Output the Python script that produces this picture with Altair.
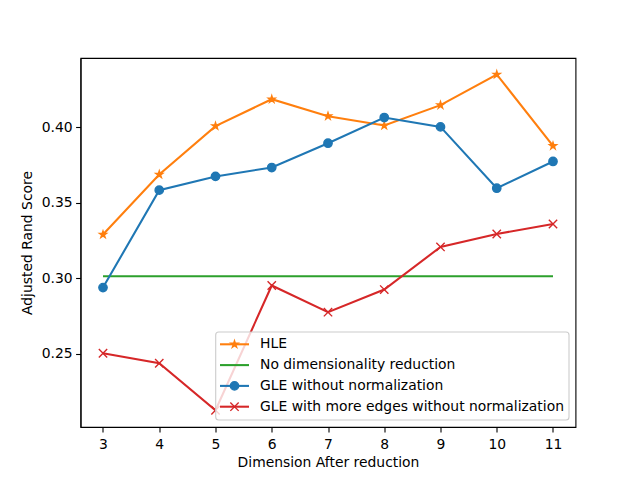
import math
import altair as alt
import pandas as pd

dims = [3, 4, 5, 6, 7, 8, 9, 10, 11]
series_names = [
    "HLE",
    "No dimensionality reduction",
    "GLE without normalization",
    "GLE with more edges without normalization",
]
hle = [0.3289, 0.3687, 0.4007, 0.4185, 0.4073, 0.4011, 0.4146, 0.4349, 0.3876]
no_reduction = [0.3013, 0.3013, 0.3013, 0.3013, 0.3013, 0.3013, 0.3013, 0.3013, 0.3013]
gle = [0.2938, 0.3583, 0.3674, 0.3733, 0.3894, 0.4064, 0.4002, 0.3596, 0.3773]
gle_more = [0.2503, 0.2437, 0.2126, 0.2952, 0.2775, 0.2925, 0.3207, 0.3293, 0.3359]
y_ticks = [0.25, 0.30, 0.35, 0.40]

colors = ["#ff7f0e", "#2ca02c", "#1f77b4", "#d62728"]

rows = []
for name, vals in zip(series_names, [hle, no_reduction, gle, gle_more]):
    for d, v in zip(dims, vals):
        rows.append({"dim": d, "score": v, "series": name})
df = pd.DataFrame(rows)

leg_df = pd.DataFrame({"series": series_names, "idx": list(range(len(series_names)))})
box_df = pd.DataFrame({"k": [0]})


def star_path(r):
    pts = []
    for k in range(10):
        ang = math.pi / 2 + k * math.pi / 5
        rad = r if k % 2 == 0 else r * 0.381966
        pts.append((rad * math.cos(ang), -rad * math.sin(ang)))
    return "M" + "L".join(f"{x:.4f},{y:.4f}" for x, y in pts) + "Z"


def x_path(r):
    return f"M{-r},{-r}L{r},{r}M{-r},{r}L{r},{-r}"


x_scale = alt.Scale(domain=[2.6, 11.4], nice=False, zero=False)
y_scale = alt.Scale(domain=[0.2015, 0.4458], nice=False, zero=False)

x_enc = alt.X(
    "dim:Q",
    scale=x_scale,
    axis=alt.Axis(values=dims, title="Dimension After reduction", format="d"),
)
y_enc = alt.Y(
    "score:Q",
    scale=y_scale,
    axis=alt.Axis(values=y_ticks, title="Adjusted Rand Score", format=".2f"),
)
color_enc = alt.Color(
    "series:N", scale=alt.Scale(domain=series_names, range=colors), legend=None
)

lines = alt.Chart(df).mark_line(strokeWidth=2.08).encode(
    x=x_enc, y=y_enc, color=color_enc, detail="series:N"
)

marker_specs = {
    series_names[0]: dict(shape=star_path(1), size=52, filled=True),
    series_names[2]: dict(shape="circle", size=69.6, filled=True),
    series_names[3]: dict(shape=x_path(1), size=69.6, filled=False),
}


def point_mark(name):
    spec = marker_specs[name]
    color = colors[series_names.index(name)]
    return dict(
        shape=spec["shape"],
        size=spec["size"],
        strokeWidth=1.4,
        opacity=1,
        filled=False,
        fill=color if spec["filled"] else "transparent",
        stroke=color,
    )


data_markers = [
    alt.Chart(df)
    .transform_filter(alt.datum.series == name)
    .mark_point(**point_mark(name))
    .encode(x=x_enc, y=y_enc)
    for name in marker_specs
]

# ---- legend (matplotlib style, lower right inside the axes) ----
row_y = "286.3 + datum.idx * 20.8"
leg_y = alt.Y("ry:Q", scale=None, axis=None)

leg_box = alt.Chart(box_df).mark_rect(
    fill="white",
    fillOpacity=0.8,
    stroke="#cccccc",
    strokeWidth=1.1,
    cornerRadius=3,
).encode(
    x=alt.value(135.2), x2=alt.value(488.5), y=alt.value(274), y2=alt.value(362)
)

leg_lines = (
    alt.Chart(leg_df)
    .transform_calculate(ry=row_y)
    .mark_rule(strokeWidth=2.08)
    .encode(x=alt.value(139.5), x2=alt.value(168.5), y=leg_y, color=color_enc)
)

leg_markers = [
    alt.Chart(leg_df)
    .transform_filter(alt.datum.series == name)
    .transform_calculate(ry=row_y)
    .mark_point(**point_mark(name))
    .encode(x=alt.value(154), y=leg_y)
    for name in marker_specs
]

leg_text = (
    alt.Chart(leg_df)
    .transform_calculate(ry=row_y)
    .mark_text(align="left", baseline="middle", fontSize=13.9, font="DejaVu Sans", color="black")
    .encode(x=alt.value(179.5), y=leg_y, text="series:N")
)

chart = (
    alt.layer(lines, *data_markers, leg_box, leg_lines, *leg_markers, leg_text)
    .properties(
        width=495,
        height=369,
        autosize=alt.AutoSizeParams(type="none"),
        padding={"left": 72.5, "top": 50, "right": 56, "bottom": 45},
    )
    .configure(font="DejaVu Sans")
    .configure_view(stroke="black", strokeWidth=1.1)
    .configure_axis(
        grid=False,
        domainColor="black",
        domainWidth=1.1,
        tickColor="black",
        tickWidth=1.1,
        tickSize=4.9,
        labelFont="DejaVu Sans",
        labelFontSize=13.9,
        labelColor="black",
        labelPadding=3.5,
        titleFont="DejaVu Sans",
        titleFontSize=13.9,
        titleFontWeight="normal",
        titleColor="black",
    )
    .configure_axisX(labelPadding=5.5, titlePadding=4)
    .configure_axisY(titlePadding=7)
)

chart.save("out.html", embed_options={"renderer": "svg", "actions": False})
